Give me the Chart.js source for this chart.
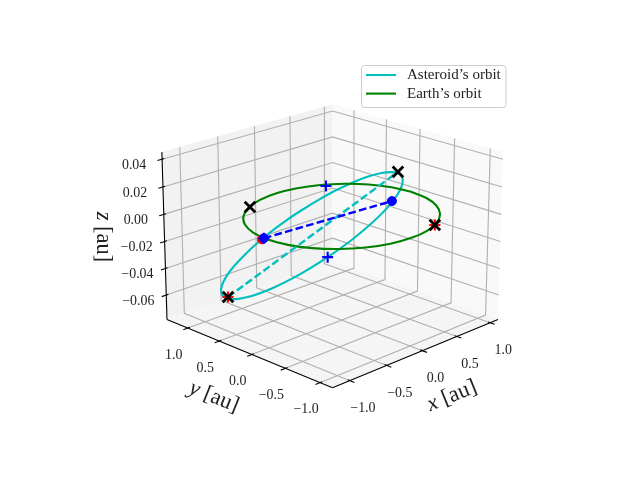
<!DOCTYPE html>
<html>
<head>
<meta charset="utf-8">
<style>
  html, body { margin: 0; padding: 0; background: #fff; }
  #wrap { width: 640px; height: 480px; }
</style>
<script src="https://cdn.jsdelivr.net/npm/chart.js@4/dist/chart.umd.js"></script>
</head>
<body>
<div id="wrap"><canvas id="chart" width="640" height="480"></canvas></div>
<script>
// axis limits and ticks
const xLim = [-1.23, 1.12];
const yLim = [-1.176, 1.338];
const zLim = [-0.0785, 0.0452];
const xTicks = [-1.0, -0.5, 0.0, 0.5, 1.0];
const yTicks = [-1.0, -0.5, 0.0, 0.5, 1.0];
const zTicks = [-0.06, -0.04, -0.02, 0.0, 0.02, 0.04];
const xTickLabels = ["\u22121.0", "\u22120.5", "0.0", "0.5", "1.0"];
const yTickLabels = ["\u22121.0", "\u22120.5", "0.0", "0.5", "1.0"];
const zTickLabels = ["\u22120.06", "\u22120.04", "\u22120.02", "0.00", "0.02", "0.04"];

// asteroid's orbit
const asteroidX = [-0.743, -0.573, -0.395, -0.219, -0.050, 0.111, 0.260, 0.396, 0.516, 0.618, 0.695, 0.740, 0.743, 0.691, 0.570, 0.370, 0.095, -0.230, -0.555, -0.812, -0.980, -1.035, -1.002, -0.893, -0.743];
const asteroidY = [-0.354, -0.488, -0.573, -0.616, -0.623, -0.598, -0.544, -0.462, -0.354, -0.218, -0.054, 0.137, 0.354, 0.589, 0.826, 1.040, 1.192, 1.241, 1.161, 0.959, 0.677, 0.368, 0.078, -0.166, -0.354];
const asteroidZ = [0.0263, 0.0343, 0.0390, 0.0410, 0.0407, 0.0383, 0.0342, 0.0283, 0.0207, 0.0114, 0.0004, -0.0123, -0.0263, -0.0414, -0.0562, -0.0693, -0.0780, -0.0797, -0.0730, -0.0587, -0.0396, -0.0193, -0.0006, 0.0148, 0.0263];

// earth's orbit
const earthX = [1.0, 0.966, 0.866, 0.707, 0.5, 0.259, 0.0, -0.259, -0.5, -0.707, -0.866, -0.966, -1.0, -0.966, -0.866, -0.707, -0.5, -0.259, 0.0, 0.259, 0.5, 0.707, 0.866, 0.966, 1.0];
const earthY = [0.0, 0.259, 0.5, 0.707, 0.866, 0.966, 1.0, 0.966, 0.866, 0.707, 0.5, 0.259, 0.0, -0.259, -0.5, -0.707, -0.866, -0.966, -1.0, -0.966, -0.866, -0.707, -0.5, -0.259, 0.0];
const earthZ = [0, 0, 0, 0, 0, 0, 0, 0, 0, 0, 0, 0, 0, 0, 0, 0, 0, 0, 0, 0, 0, 0, 0, 0, 0];

// major axis and line of nodes
const majorX = [-0.543, 0.25];
const majorY = [1.172, -0.55];
const majorZ = [-0.072, 0.0355];
const nodesX = [-1.002, 0.652];
const nodesY = [0.057, -0.065];
const nodesZ = [0, 0];

// markers
const blueDotX = [0.652, -1.002];
const blueDotY = [-0.065, 0.057];
const blueDotZ = [0, 0];
const redDotX = [-1.035];
const redDotY = [0.048];
const redDotZ = [0];
const redPlusX = [-0.543, 0.426];
const redPlusY = [1.172, -0.907];
const redPlusZ = [-0.072, 0];
const bluePlusX = [-1.002, 0.517, 0.57];
const bluePlusY = [0.057, 0.795, 0.826];
const bluePlusZ = [0, 0, -0.0562];
const blackCrossX = [-0.543, 0.25, -0.48, 0.426];
const blackCrossY = [1.172, -0.55, 0.869, -0.907];
const blackCrossZ = [-0.072, 0.0355, 0, 0];

const legendLabels = ["Asteroid\u2019s orbit", "Earth\u2019s orbit"];
const legendColors = ["#00bfbf", "#008000"];

// camera, same as a matplotlib 3d axes with elev=20, azim=-135
const BOX = [1.1905, 1.1905, 0.8929];
const DIST = 10;
const SE = Math.sin(20 * Math.PI / 180);
const CE = Math.cos(20 * Math.PI / 180);
const PIX = 1996, CX = 332.5, CY = 237;

function project(x, y, z) {
  const X = ((x - xLim[0]) / (xLim[1] - xLim[0]) - 0.5) * BOX[0];
  const Y = ((y - yLim[0]) / (yLim[1] - yLim[0]) - 0.5) * BOX[1];
  const Z = ((z - zLim[0]) / (zLim[1] - zLim[0]) - 0.5) * BOX[2];
  const a = (X - Y) / Math.SQRT2;
  const b = (X + Y) / Math.SQRT2;
  const d = DIST + CE * b - SE * Z;
  return { x: a / d, y: (SE * b + CE * Z) / d };
}

function points(xs, ys, zs) {
  return xs.map((x, i) => project(x, ys[i], zs[i]));
}

const datasets = [];
function add(ds) {
  ds.order = -datasets.length; // later ones on top
  datasets.push(ds);
}
function addLine(xs, ys, zs, color, width, extra) {
  add(Object.assign({
    data: points(xs, ys, zs), showLine: true, borderColor: color, borderWidth: width,
    pointRadius: 0, fill: false, tension: 0
  }, extra || {}));
}
function addMarks(xs, ys, zs, style, color, radius, width) {
  add({
    data: points(xs, ys, zs), showLine: false, pointStyle: style, pointRadius: radius,
    borderColor: color, backgroundColor: color, pointBorderWidth: width
  });
}
function addPane(xs, ys, zs, color) {
  add({
    data: points(xs, ys, zs), showLine: true, borderWidth: 0, borderColor: color,
    backgroundColor: color, pointRadius: 0, fill: "shape"
  });
}

// panes
addPane([xLim[0], xLim[1], xLim[1], xLim[0], xLim[0]], [yLim[1], yLim[1], yLim[1], yLim[1], yLim[1]], [zLim[0], zLim[0], zLim[1], zLim[1], zLim[0]], "#f2f2f2");
addPane([xLim[1], xLim[1], xLim[1], xLim[1], xLim[1]], [yLim[1], yLim[0], yLim[0], yLim[1], yLim[1]], [zLim[0], zLim[0], zLim[1], zLim[1], zLim[0]], "#f9f9f9");
addPane([xLim[0], xLim[1], xLim[1], xLim[0], xLim[0]], [yLim[0], yLim[0], yLim[1], yLim[1], yLim[0]], [zLim[0], zLim[0], zLim[0], zLim[0], zLim[0]], "#f5f5f5");

// grid
const GRID = "#b0b0b0";
xTicks.forEach(t => addLine([t, t, t], [yLim[0], yLim[1], yLim[1]], [zLim[0], zLim[0], zLim[1]], GRID, 1.1));
yTicks.forEach(t => addLine([xLim[0], xLim[1], xLim[1]], [t, t, t], [zLim[0], zLim[0], zLim[1]], GRID, 1.1));
zTicks.forEach(t => addLine([xLim[0], xLim[1], xLim[1]], [yLim[1], yLim[1], yLim[0]], [t, t, t], GRID, 1.1));

// axis lines and tick marks
addLine([xLim[0], xLim[1]], [yLim[0], yLim[0]], [zLim[0], zLim[0]], "#000", 1.1);
addLine([xLim[0], xLim[0]], [yLim[0], yLim[1]], [zLim[0], zLim[0]], "#000", 1.1);
addLine([xLim[0], xLim[0]], [yLim[1], yLim[1]], [zLim[0], zLim[1]], "#000", 1.1);
const TICK_IN = 0.012, TICK_OUT = 0.025;
xTicks.forEach(t => {
  const r = yLim[1] - yLim[0];
  addLine([t, t], [yLim[0] + TICK_IN * r, yLim[0] - TICK_OUT * r], [zLim[0], zLim[0]], "#000", 1.1);
});
yTicks.forEach(t => {
  const r = xLim[1] - xLim[0];
  addLine([xLim[0] + TICK_IN * r, xLim[0] - TICK_OUT * r], [t, t], [zLim[0], zLim[0]], "#000", 1.1);
});
zTicks.forEach(t => {
  const r = xLim[1] - xLim[0];
  addLine([xLim[0] + TICK_IN * r, xLim[0] - TICK_OUT * r], [yLim[1], yLim[1]], [t, t], "#000", 1.1);
});

// the plotted things
addLine(asteroidX, asteroidY, asteroidZ, "#00bfbf", 2.1, { tension: 0.4 });
addLine(earthX, earthY, earthZ, "#008000", 2.1, { tension: 0.4 });
addLine(majorX, majorY, majorZ, "#00bfbf", 2.4, { borderDash: [7.7, 3.3] });
addLine(nodesX, nodesY, nodesZ, "#0000ff", 2.4, { borderDash: [7.7, 3.3] });
addMarks(redDotX, redDotY, redDotZ, "circle", "#ff0000", 4.5, 1);
addMarks(redPlusX, redPlusY, redPlusZ, "cross", "#ff0000", 5.5, 2.1);
addMarks(blueDotX, blueDotY, blueDotZ, "circle", "#0000ff", 4.5, 1);
addMarks(bluePlusX, bluePlusY, bluePlusZ, "cross", "#0000ff", 5.5, 2.1);
addMarks(blackCrossX, blackCrossY, blackCrossZ, "crossRot", "#000000", 7.5, 2.8);

const textPlugin = {
  id: "texts",
  afterDraw(chart) {
    const ctx = chart.ctx, sx = chart.scales.x, sy = chart.scales.y;
    const at = p => [sx.getPixelForValue(p.x), sy.getPixelForValue(p.y)];
    ctx.save();
    ctx.fillStyle = "#222";
    ctx.textAlign = "center";
    ctx.textBaseline = "middle";
    ctx.font = "13.9px 'Liberation Serif'";
    xTicks.forEach((t, i) => {
      const [px, py] = at(project(t, yLim[0], zLim[0]));
      ctx.fillText(xTickLabels[i], px + 13, py + 28);
    });
    yTicks.forEach((t, i) => {
      const [px, py] = at(project(xLim[0], t, zLim[0]));
      ctx.fillText(yTickLabels[i], px - 14, py + 27);
    });
    zTicks.forEach((t, i) => {
      const [px, py] = at(project(xLim[0], yLim[1], t));
      ctx.fillText(zTickLabels[i], px - 28, py + 6);
    });

    // axis titles, italic letter then plain unit
    const title = (letter, cx, cy, deg) => {
      ctx.save();
      ctx.translate(cx, cy);
      ctx.rotate(deg * Math.PI / 180);
      ctx.textAlign = "left";
      ctx.font = "italic 22.5px 'Liberation Serif'";
      const w1 = ctx.measureText(letter).width;
      ctx.font = "22.5px 'Liberation Serif'";
      const w2 = ctx.measureText(" [au]").width;
      const x0 = -(w1 + w2) / 2;
      ctx.font = "italic 22.5px 'Liberation Serif'";
      ctx.fillText(letter, x0, 0);
      ctx.font = "22.5px 'Liberation Serif'";
      ctx.fillText(" [au]", x0 + w1, 0);
      ctx.restore();
    };
    title("x", 452, 396, -22);
    title("y", 214, 397, 22);
    title("z", 103, 237, 90);

    // legend
    ctx.beginPath();
    ctx.roundRect(361.5, 65.5, 144.5, 42, 3);
    ctx.fillStyle = "rgba(255,255,255,0.8)";
    ctx.fill();
    ctx.strokeStyle = "#cccccc";
    ctx.lineWidth = 1;
    ctx.stroke();
    ctx.textAlign = "left";
    ctx.font = "15px 'Liberation Serif'";
    legendLabels.forEach((label, i) => {
      const y = 75 + i * 18.6;
      ctx.strokeStyle = legendColors[i];
      ctx.lineWidth = 2.1;
      ctx.beginPath();
      ctx.moveTo(366, y);
      ctx.lineTo(396, y);
      ctx.stroke();
      ctx.fillStyle = "#222";
      ctx.fillText(label, 407, y + 0.5);
    });
    ctx.restore();
  }
};

new Chart(document.getElementById("chart"), {
  type: "scatter",
  data: { datasets },
  plugins: [textPlugin],
  options: {
    responsive: false,
    animation: false,
    devicePixelRatio: 1,
    layout: { padding: 0, autoPadding: false },
    plugins: { legend: { display: false }, tooltip: { enabled: false } },
    scales: {
      x: { type: "linear", display: false, min: (0 - CX) / PIX, max: (640 - CX) / PIX },
      y: { type: "linear", display: false, min: (CY - 480) / PIX, max: (CY - 0) / PIX }
    }
  }
});
</script>
</body>
</html>
